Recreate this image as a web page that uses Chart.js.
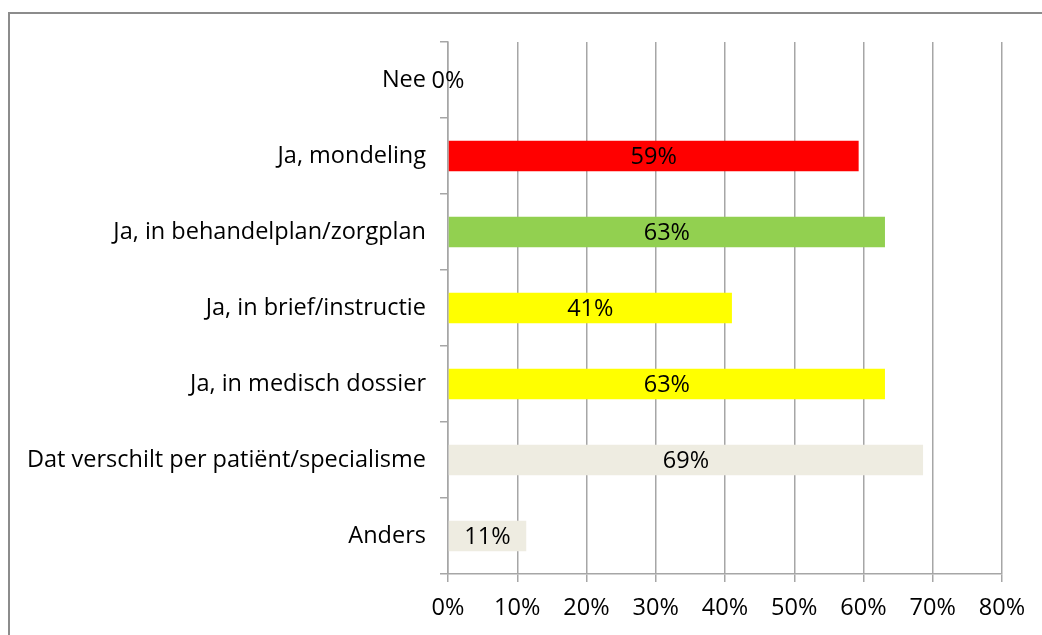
<!DOCTYPE html>
<html>
<head>
<meta charset="utf-8">
<script src="https://cdn.jsdelivr.net/npm/chart.js@4"></script>
<style>
  html, body { margin: 0; padding: 0; background: #fff; overflow: hidden; }
  #wrap { position: relative; width: 1042px; height: 635px; }
  #frame { position: absolute; left: 8px; top: 12px; width: 1100px; height: 700px; border: 2px solid #8c8c8c; box-sizing: border-box; }
  canvas { position: absolute; left: 0; top: 0; }
</style>
</head>
<body>
<div id="wrap">
  <div id="frame"></div>
  <canvas id="chart" width="1042" height="635"></canvas>
</div>
<script>
const categories = [
  'Nee',
  'Ja, mondeling',
  'Ja, in behandelplan/zorgplan',
  'Ja, in brief/instructie',
  'Ja, in medisch dossier',
  'Dat verschilt per patiënt/specialisme',
  'Anders',
];
const values = [0, 59.3, 63.1, 41, 63.1, 68.6, 11.3];
const valueLabels = ['0%', '59%', '63%', '41%', '63%', '69%', '11%'];
const barColors = ['#ff0000', '#ff0000', '#92d050', '#ffff00', '#ffff00', '#eeece1', '#eeece1'];
const xTicks = [0, 10, 20, 30, 40, 50, 60, 70, 80];

const fontFamily = "'Open Sans', 'Liberation Sans', sans-serif";
const fontSize = 23.5;
const gridColor = '#a6a6a6';

const valueLabelPlugin = {
  id: 'valueLabels',
  afterDatasetsDraw(chart) {
    const { ctx } = chart;
    const meta = chart.getDatasetMeta(0);
    ctx.save();
    ctx.font = `${fontSize}px ${fontFamily}`;
    ctx.fillStyle = '#000';
    ctx.textAlign = 'center';
    ctx.textBaseline = 'middle';
    meta.data.forEach((bar, i) => {
      const { x, base, y } = bar.getProps(['x', 'base', 'y'], true);
      ctx.fillText(valueLabels[i], (x + base) / 2, y + 1);
    });
    ctx.restore();
  },
};

new Chart(document.getElementById('chart').getContext('2d'), {
  type: 'bar',
  data: {
    labels: categories,
    datasets: [{
      data: values,
      backgroundColor: barColors,
      borderWidth: 0,
      barPercentage: 0.8,
      categoryPercentage: 0.5,
    }],
  },
  options: {
    responsive: false,
    animation: false,
    indexAxis: 'y',
    layout: { padding: { top: 42, right: 40, left: 0, bottom: 0 } },
    plugins: {
      legend: { display: false },
      tooltip: { enabled: false },
    },
    scales: {
      x: {
        min: 0,
        max: 80,
        afterFit(scale) { scale.height = 61; },
        afterBuildTicks(scale) { scale.ticks = xTicks.map((v) => ({ value: v })); },
        ticks: {
          color: '#000',
          padding: 12,
          font: { family: fontFamily, size: fontSize },
          callback: (v) => `${v}%`,
          maxRotation: 0,
        },
        grid: { color: gridColor, lineWidth: 1.5, tickLength: 8 },
        border: { color: gridColor, width: 1.5 },
      },
      y: {
        afterFit(scale) { scale.width = 448; },
        ticks: {
          color: '#000',
          padding: 14,
          font: { family: fontFamily, size: fontSize },
        },
        grid: { color: gridColor, lineWidth: 1.5, drawOnChartArea: false, tickLength: 8, offset: true },
        border: { color: gridColor, width: 1.5 },
      },
    },
  },
  plugins: [valueLabelPlugin],
});
</script>
</body>
</html>
